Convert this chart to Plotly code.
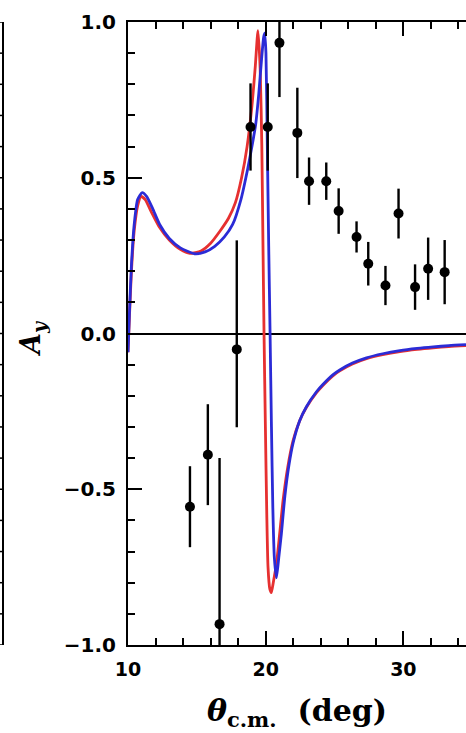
import plotly.graph_objects as go

# Measured analysing power A_y vs c.m. angle
theta_data = [14.5, 15.8, 16.65, 17.9, 18.9, 20.15, 21.0, 22.3, 23.15, 24.4,
              25.3, 26.6, 27.45, 28.7, 29.65, 30.85, 31.8, 33.0]
ay_data = [-0.556, -0.389, -0.933, -0.051, 0.663, 0.663, 0.933, 0.644, 0.489, 0.489,
           0.393, 0.31, 0.224, 0.154, 0.385, 0.149, 0.208, 0.197]
ay_err_plus = [0.13, 0.162, 0.533, 0.35, 0.14, 0.14, 0.174, 0.145, 0.076, 0.06,
               0.073, 0.05, 0.07, 0.063, 0.08, 0.073, 0.1, 0.103]
ay_err_minus = [0.13, 0.162, 0.533, 0.25, 0.14, 0.14, 0.174, 0.145, 0.076, 0.06,
                0.073, 0.05, 0.07, 0.063, 0.08, 0.073, 0.1, 0.103]

# Model calculation (red)
theta_red = [10.0, 10.1, 10.25, 10.45, 10.7, 10.95, 11.25, 11.7, 12.3, 13.0,
             13.8, 14.5, 15.3, 16.0, 16.7, 17.3, 17.8, 18.25, 18.65, 19.0,
             19.25, 19.44, 19.6, 19.72, 19.8, 19.88, 19.98, 20.08, 20.17, 20.3,
             20.41, 20.55, 20.78, 21.0, 21.26, 21.6, 21.99, 22.47, 22.96, 23.69,
             24.17, 24.9, 25.38, 26.3, 27.32, 28.5, 29.75, 31.0, 32.17, 33.3, 34.55]
ay_red = [-0.06, 0.05, 0.2, 0.33, 0.41, 0.44, 0.43, 0.39, 0.34, 0.3,
          0.27, 0.257, 0.265, 0.29, 0.33, 0.37, 0.42, 0.50, 0.60, 0.73,
          0.86, 0.972, 0.85, 0.6, 0.3, 0.0, -0.3, -0.58, -0.75, -0.82,
          -0.832, -0.80, -0.74, -0.65, -0.537, -0.43, -0.344, -0.28, -0.237, -0.19,
          -0.166, -0.135, -0.12, -0.098, -0.081, -0.068, -0.058, -0.051, -0.046, -0.042, -0.039]

# Model calculation (blue)
theta_blue = [10.0, 10.1, 10.25, 10.45, 10.7, 11.03, 11.35, 11.8, 12.3, 13.0,
              13.8, 14.84, 15.6, 16.3, 17.0, 17.6, 18.2, 18.7, 19.0, 19.27,
              19.5, 19.7, 19.85, 19.93, 20.02, 20.12, 20.22, 20.32, 20.42, 20.52,
              20.63, 20.78, 20.95, 21.14, 21.4, 21.7, 22.0, 22.47, 22.96, 23.69,
              24.17, 24.9, 25.38, 26.3, 27.32, 28.5, 29.75, 31.0, 32.17, 33.3, 34.55]
ay_blue = [-0.06, 0.06, 0.22, 0.35, 0.43, 0.452, 0.44, 0.40, 0.35, 0.305,
           0.275, 0.256, 0.262, 0.28, 0.31, 0.35, 0.43, 0.53, 0.60, 0.67,
           0.77, 0.88, 0.95, 0.964, 0.9, 0.6, 0.28, 0.0, -0.3, -0.56,
           -0.72, -0.784, -0.72, -0.643, -0.52, -0.42, -0.35, -0.28, -0.235, -0.187,
           -0.163, -0.132, -0.117, -0.095, -0.078, -0.065, -0.055, -0.048, -0.043, -0.039, -0.036]

# Ticks of the neighbouring panel's right-hand frame
neighbour_ticks = [round(-1.0 + 0.1 * i, 1) for i in range(21)]

fig = go.Figure()

fig.add_trace(go.Scatter(x=theta_red, y=ay_red, mode="lines",
                         line=dict(color="#e63030", width=2.8, shape="spline", smoothing=0.6),
                         showlegend=False))
fig.add_trace(go.Scatter(x=theta_blue, y=ay_blue, mode="lines",
                         line=dict(color="#2b2bd6", width=2.8, shape="spline", smoothing=0.6),
                         showlegend=False))
fig.add_trace(go.Scatter(x=theta_data, y=ay_data, mode="markers",
                         marker=dict(color="black", size=10),
                         error_y=dict(type="data", array=ay_err_plus, arrayminus=ay_err_minus,
                                      symmetric=False, color="black", thickness=2.4, width=0),
                         showlegend=False))

fig.update_xaxes(range=[10, 34.55], showline=True, linecolor="black", linewidth=2,
                 mirror="ticks", ticks="inside", ticklen=14, tickwidth=2, tickcolor="black",
                 dtick=10, tick0=10, showgrid=False, zeroline=False,
                 tickfont=dict(family="DejaVu Sans", size=19, color="black", weight="bold"),
                 ticklabelstandoff=6,
                 minor=dict(ticks="inside", dtick=2, ticklen=7, tickwidth=1.5,
                            tickcolor="black", showgrid=False))
fig.update_yaxes(range=[-1, 1], showline=True, linecolor="black", linewidth=2,
                 mirror=False, ticks="inside", ticklen=14, tickwidth=2, tickcolor="black",
                 dtick=0.5, tick0=0, tickformat=".1f", showgrid=False,
                 zeroline=True, zerolinecolor="black", zerolinewidth=2,
                 tickfont=dict(family="DejaVu Sans", size=20, color="black", weight="bold"),
                 ticklabelstandoff=6,
                 minor=dict(ticks="inside", dtick=0.1, ticklen=7, tickwidth=1.5,
                            tickcolor="black", showgrid=False))

# Frame edge of the adjacent panel on the left
plot_w = 466 - 128
edge_x = (3 - 128) / plot_w
shapes = [dict(type="line", xref="paper", yref="y", x0=edge_x, x1=edge_x, y0=-1.0, y1=1.0,
               line=dict(color="black", width=2))]
for v in neighbour_ticks:
    shapes.append(dict(type="line", xref="paper", yref="y",
                       x0=edge_x, x1=(0 - 128) / plot_w, y0=v, y1=v,
                       line=dict(color="black", width=1.5)))
fig.update_layout(shapes=shapes)

fig.add_annotation(text="<i>θ</i><sub>c.m.</sub>  (deg)", xref="paper", yref="paper",
                   x=0.5, y=(645 - 712) / 623, xanchor="center", yanchor="middle",
                   showarrow=False,
                   font=dict(family="DejaVu Serif", size=30, color="black", weight="bold"))
fig.add_annotation(text="<i>A</i><sub><i>y</i></sub>", xref="paper", yref="paper",
                   x=(32 - 128) / plot_w, y=(645 - 339) / 623, xanchor="center", yanchor="middle",
                   textangle=-90, showarrow=False,
                   font=dict(family="DejaVu Serif", size=27, color="black", weight="bold"))

fig.update_layout(width=466, height=733,
                  margin=dict(l=128, r=0, t=22, b=88),
                  paper_bgcolor="white", plot_bgcolor="white")

fig.write_html("out.html")
